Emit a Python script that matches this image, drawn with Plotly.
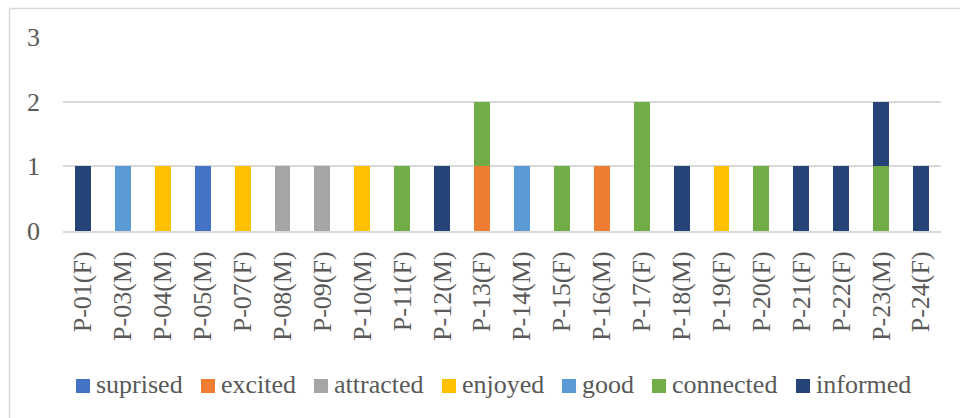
import plotly.graph_objects as go

# Participants on the x axis
participants = [
    "P-01(F)", "P-03(M)", "P-04(M)", "P-05(M)", "P-07(F)", "P-08(M)",
    "P-09(F)", "P-10(M)", "P-11(F)", "P-12(M)", "P-13(F)", "P-14(M)",
    "P-15(F)", "P-16(M)", "P-17(F)", "P-18(M)", "P-19(F)", "P-20(F)",
    "P-21(F)", "P-22(F)", "P-23(M)", "P-24(F)",
]

# Counts per emotion category, one value per participant
suprised  = [0, 0, 0, 1, 0, 0, 0, 0, 0, 0, 0, 0, 0, 0, 0, 0, 0, 0, 0, 0, 0, 0]
excited   = [0, 0, 0, 0, 0, 0, 0, 0, 0, 0, 1, 0, 0, 1, 0, 0, 0, 0, 0, 0, 0, 0]
attracted = [0, 0, 0, 0, 0, 1, 1, 0, 0, 0, 0, 0, 0, 0, 0, 0, 0, 0, 0, 0, 0, 0]
enjoyed   = [0, 0, 1, 0, 1, 0, 0, 1, 0, 0, 0, 0, 0, 0, 0, 0, 1, 0, 0, 0, 0, 0]
good      = [0, 1, 0, 0, 0, 0, 0, 0, 0, 0, 0, 1, 0, 0, 0, 0, 0, 0, 0, 0, 0, 0]
connected = [0, 0, 0, 0, 0, 0, 0, 0, 1, 0, 1, 0, 1, 0, 2, 0, 0, 1, 0, 0, 1, 0]
informed  = [1, 0, 0, 0, 0, 0, 0, 0, 0, 1, 0, 0, 0, 0, 0, 1, 0, 0, 1, 1, 1, 1]

y_ticks = [0, 1, 2, 3]

series = [
    ("suprised", suprised, "#4472C4"),
    ("excited", excited, "#ED7D31"),
    ("attracted", attracted, "#A5A5A5"),
    ("enjoyed", enjoyed, "#FFC000"),
    ("good", good, "#5B9BD5"),
    ("connected", connected, "#70AD47"),
    ("informed", informed, "#264478"),
]

FONT = "Liberation Serif"
TEXT = "#595959"
GRID = "#D9D9D9"

# Plot area in pixels: x 63..941, y 37..231
L, R, T, B = 63, 941, 37, 231
W, H = 960, 418
pw, ph = R - L, B - T

def px_x(p):
    return (p - L) / pw

def px_y(p):
    return (B - p) / ph

fig = go.Figure()
for name, vals, color in series:
    fig.add_trace(go.Bar(
        name=name, x=participants, y=vals,
        marker=dict(color=color, line=dict(width=0)),
        showlegend=False,
    ))

# Compact single-row legend: colour swatch followed by the series name
legend_left = [76, 201, 314, 442, 562, 652, 796]   # swatch left edge, px
SW = 14                                            # swatch size, px
LEG_Y = 386                                        # row centre, px
shapes = []
annotations = []
for (name, _, color), x0 in zip(series, legend_left):
    shapes.append(dict(
        type="rect", xref="paper", yref="paper",
        x0=px_x(x0), x1=px_x(x0 + SW),
        y0=px_y(LEG_Y + SW / 2), y1=px_y(LEG_Y - SW / 2),
        fillcolor=color, line=dict(width=0),
    ))
    annotations.append(dict(
        text=name, xref="paper", yref="paper",
        x=px_x(x0 + SW + 5), xanchor="left",
        y=px_y(LEG_Y - 1), yanchor="middle",
        showarrow=False, borderpad=0,
        font=dict(family=FONT, size=26, color=TEXT),
    ))

# chart frame (left and top edges)
shapes += [
    dict(type="line", xref="paper", yref="paper",
         x0=px_x(9.5), x1=px_x(9.5), y0=px_y(8.5), y1=px_y(430),
         line=dict(color=GRID, width=1.5)),
    dict(type="line", xref="paper", yref="paper",
         x0=px_x(9.5), x1=px_x(970), y0=px_y(8.5), y1=px_y(8.5),
         line=dict(color=GRID, width=1.5)),
]

fig.update_layout(
    width=W, height=H,
    margin=dict(l=L, r=W - R, t=T, b=H - B, autoexpand=False),
    barmode="stack",
    bargap=0.6,
    plot_bgcolor="white",
    paper_bgcolor="white",
    font=dict(family=FONT, size=26, color=TEXT),
    showlegend=False,
    xaxis=dict(
        type="category",
        tickangle=-90,
        showgrid=False,
        showline=True, linecolor=GRID, linewidth=2,
        ticks="", ticklabelstandoff=8,
        tickfont=dict(family=FONT, size=26, color=TEXT),
        automargin=False,
        fixedrange=True,
    ),
    yaxis=dict(
        range=[0, 3],
        tickvals=y_ticks,
        showgrid=True, gridcolor=GRID, gridwidth=2,
        zeroline=False,
        showline=False,
        ticks="", ticklabelstandoff=22,
        tickfont=dict(family=FONT, size=26, color=TEXT),
        automargin=False,
        fixedrange=True,
    ),
    shapes=shapes,
    annotations=annotations,
)

fig.write_html("out.html")
